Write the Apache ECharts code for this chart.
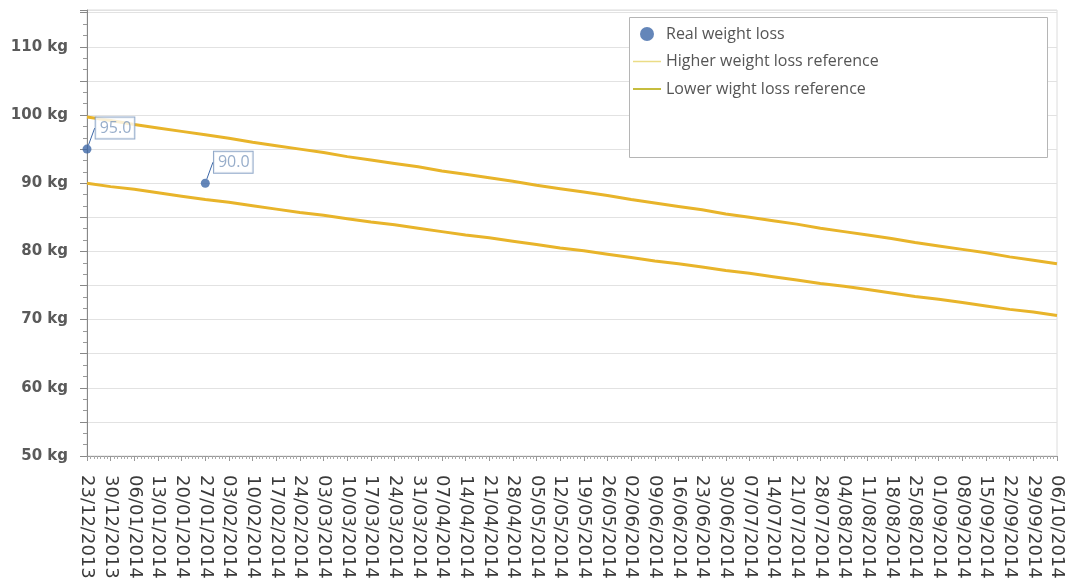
<!DOCTYPE html>
<html>
<head>
<meta charset="utf-8">
<script src="https://cdn.jsdelivr.net/npm/echarts@6/dist/echarts.min.js"></script>
<style>html,body{margin:0;padding:0;background:#fff}#c{width:1065px;height:578px}</style>
</head>
<body>
<div id="c"></div>
<script>
// Weekly tick labels (x axis, week index 0..41)
var weekLabels = ['23/12/2013','30/12/2013','06/01/2014','13/01/2014','20/01/2014','27/01/2014','03/02/2014','10/02/2014','17/02/2014','24/02/2014','03/03/2014','10/03/2014','17/03/2014','24/03/2014','31/03/2014','07/04/2014','14/04/2014','21/04/2014','28/04/2014','05/05/2014','12/05/2014','19/05/2014','26/05/2014','02/06/2014','09/06/2014','16/06/2014','23/06/2014','30/06/2014','07/07/2014','14/07/2014','21/07/2014','28/07/2014','04/08/2014','11/08/2014','18/08/2014','25/08/2014','01/09/2014','08/09/2014','15/09/2014','22/09/2014','29/09/2014','06/10/2014'];

// Real weight loss measurements (week index, kg)
var realWeeks = [0, 5];
var realValues = [95.0, 90.0];

// Reference lines, one value per week (kg)
var higherValues = [99.7,99.2,98.6,98.1,97.6,97.1,96.6,96.0,95.5,95.0,94.5,93.9,93.4,92.9,92.4,91.8,91.3,90.8,90.3,89.7,89.2,88.7,88.2,87.6,87.1,86.6,86.1,85.5,85.0,84.5,84.0,83.4,82.9,82.4,81.9,81.3,80.8,80.3,79.8,79.2,78.7,78.2];
var lowerValues = [90.0,89.5,89.1,88.6,88.1,87.6,87.2,86.7,86.2,85.7,85.3,84.8,84.3,83.9,83.4,82.9,82.4,82.0,81.5,81.0,80.5,80.1,79.6,79.1,78.6,78.2,77.7,77.2,76.8,76.3,75.8,75.3,74.9,74.4,73.9,73.4,73.0,72.5,72.0,71.5,71.1,70.6];

var seriesNames = ['Real weight loss', 'Higher weight loss reference', 'Lower wight loss reference'];

function pairs(xs, ys) { return ys.map(function (v, i) { return [xs[i], v]; }); }
var weekIdx = weekLabels.map(function (_, i) { return i; });

var chart = echarts.init(document.getElementById('c'), null, {renderer: 'canvas'});
chart.setOption({
  animation: false,
  backgroundColor: '#fff',
  grid: {left: 87, right: 8, top: 10, bottom: 122, show: true, borderColor: '#dcdcdc', borderWidth: 1,
         containLabel: false, outerBoundsMode: 'none'},
  graphic: [{
    type: 'rect', z: 1, left: 629, top: 17,
    shape: {width: 418, height: 140},
    style: {fill: '#fff', stroke: '#b5b5b5', lineWidth: 1}
  }],
  legend: {
    orient: 'vertical', left: 633, top: 26, padding: 0, itemGap: 11.5,
    itemWidth: 28, itemHeight: 14, z: 5,
    textStyle: {fontFamily: 'Open Sans', fontSize: 16, color: '#555'},
    data: [
      {name: seriesNames[0], icon: 'circle', itemStyle: {color: '#3d68a8'}},
      {name: seriesNames[1], icon: 'path://M0,0L28,0L28,1.5L0,1.5Z', itemStyle: {color: '#ebdc86'}},
      {name: seriesNames[2], icon: 'path://M0,0L28,0L28,2L0,2Z', itemStyle: {color: '#c6bd3e'}}
    ]
  },
  xAxis: {
    type: 'value', min: 0, max: weekLabels.length - 1, interval: 1,
    axisLine: {show: true, onZero: false, lineStyle: {color: '#999'}},
    axisTick: {show: true, length: 5, lineStyle: {color: '#999'}},
    minorTick: {show: true, splitNumber: 7, length: 3, lineStyle: {color: '#aaa'}},
    splitLine: {show: false},
    axisLabel: {
      rotate: -90, margin: 19, fontFamily: 'DejaVu Sans', fontSize: 18, color: '#3a3a3a',
      formatter: function (v) { return weekLabels[Math.round(v)] || ''; }
    }
  },
  yAxis: {
    type: 'value', min: 50, max: 115.4, interval: 5,
    axisLine: {show: true, lineStyle: {color: '#888'}},
    axisTick: {show: true, length: 7, lineStyle: {color: '#888'}},
    minorTick: {show: true, splitNumber: 3, length: 4, lineStyle: {color: '#999'}},
    splitLine: {show: true, lineStyle: {color: '#e2e2e2'}},
    axisLabel: {
      fontFamily: 'DejaVu Sans', fontSize: 15, fontWeight: 'bold', color: '#5a5a5a', margin: 19,
      formatter: function (v) { return (Math.abs(v % 10) < 1e-6) ? v + ' kg' : ''; }
    }
  },
  series: [
    {
      name: seriesNames[1], type: 'line', symbol: 'none', z: 2,
      data: pairs(weekIdx, higherValues),
      lineStyle: {color: '#e8b42a', width: 3},
      itemStyle: {color: '#e8b42a'}
    },
    {
      name: seriesNames[2], type: 'line', symbol: 'none', z: 2,
      data: pairs(weekIdx, lowerValues),
      lineStyle: {color: '#e8b42a', width: 3},
      itemStyle: {color: '#e8b42a'}
    },
    {
      name: seriesNames[0], type: 'scatter', symbolSize: 9, z: 4,
      itemStyle: {color: '#3d68a8'},
      data: pairs(realWeeks, realValues),
      label: {
        show: true, position: 'inside',
        formatter: function (p) { return p.value[1].toFixed(1); },
        fontFamily: 'Open Sans', fontSize: 16, color: '#7d98bd',
        backgroundColor: '#fff', borderColor: '#7593bb', borderWidth: 1,
        padding: [3, 3, 2, 4]
      },
      labelLayout: {dx: 28, dy: -21},
      labelLine: {show: true, lineStyle: {color: '#3d68a8', width: 1}}
    }
  ]
});
</script>
</body>
</html>
